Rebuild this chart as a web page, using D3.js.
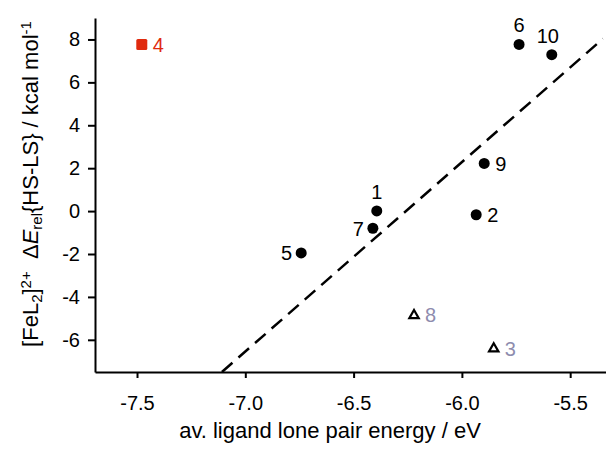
<!DOCTYPE html>
<html>
<head>
<meta charset="utf-8">
<script src="https://cdn.jsdelivr.net/npm/d3@7"></script>
<style>
  body { margin: 0; background: #fff; }
  text { font-family: "Liberation Sans", Arial, sans-serif; }
</style>
</head>
<body>
<svg id="chart"></svg>
<script>
// Data
const pointIds = ["1", "2", "3", "4", "5", "6", "7", "8", "9", "10"];
const pointX = [-6.393, -5.934, -5.853, -7.478, -6.742, -5.736, -6.411, -6.221, -5.897, -5.585];
const pointY = [0.01, -0.17, -6.39, 7.77, -1.95, 7.77, -0.80, -4.84, 2.22, 7.29];
const pointKind = ["circle", "circle", "triangle", "square", "circle", "circle", "circle", "triangle", "circle", "circle"];
const labelSide = ["top", "right", "right", "right", "left", "top", "left", "right", "right", "top"];

const fitX = [-7.108, -5.349];
const fitY = [-7.5, 8.03];

const xTicks = [-7.5, -7.0, -6.5, -6.0, -5.5];
const xTickLabels = ["-7.5", "-7.0", "-6.5", "-6.0", "-5.5"];
const yTicks = [-6, -4, -2, 0, 2, 4, 6, 8];
const yTickLabels = ["-6", "-4", "-2", "0", "2", "4", "6", "8"];

function whenDocumentLoaded(action) {
    if (document.readyState === "loading") {
        document.addEventListener("DOMContentLoaded", action);
    } else {
        action();
    }
}

function drawChart() {
    const width = 606;
    const height = 450;
    const margin = { top: 18, right: -1, bottom: 78, left: 95 };

    const xScale = d3.scaleLinear()
        .domain([-7.694, -5.33])
        .range([margin.left, width - margin.right]);
    const yScale = d3.scaleLinear()
        .domain([-7.5, 9])
        .range([height - margin.bottom, margin.top]);

    const svg = d3.select("#chart")
        .attr("width", width)
        .attr("height", height);

    // Axes
    const xAxis = d3.axisBottom(xScale)
        .tickValues(xTicks)
        .tickFormat((d, i) => xTickLabels[i])
        .tickSizeInner(6)
        .tickSizeOuter(0)
        .tickPadding(18);
    const yAxis = d3.axisLeft(yScale)
        .tickValues(yTicks)
        .tickFormat((d, i) => yTickLabels[i])
        .tickSizeInner(7)
        .tickSizeOuter(0)
        .tickPadding(8);

    const gx = svg.append("g")
        .attr("transform", `translate(0,${height - margin.bottom})`)
        .call(xAxis);
    const gy = svg.append("g")
        .attr("transform", `translate(${margin.left},0)`)
        .call(yAxis);

    [gx, gy].forEach(g => {
        g.select(".domain").attr("stroke", "#000").attr("stroke-width", 2);
        g.selectAll(".tick line").attr("stroke", "#000").attr("stroke-width", 2);
        g.selectAll(".tick text")
            .attr("fill", "#000")
            .style("font-family", "Liberation Sans, Arial, sans-serif")
            .style("font-size", "20px");
    });

    // Fit line
    const line = d3.line()
        .x(d => xScale(d[0]))
        .y(d => yScale(d[1]));
    svg.append("path")
        .datum(d3.zip(fitX, fitY))
        .attr("d", line)
        .attr("fill", "none")
        .attr("stroke", "#000")
        .attr("stroke-width", 2.5)
        .attr("stroke-dasharray", "14,8");

    // Points
    const points = pointIds.map((id, i) => ({
        id: id, x: pointX[i], y: pointY[i], kind: pointKind[i], side: labelSide[i]
    }));

    const marks = svg.append("g");
    marks.selectAll("circle")
        .data(points.filter(d => d.kind === "circle"))
        .join("circle")
        .attr("cx", d => xScale(d.x))
        .attr("cy", d => yScale(d.y))
        .attr("r", 5.5)
        .attr("fill", "#000");
    marks.selectAll("rect")
        .data(points.filter(d => d.kind === "square"))
        .join("rect")
        .attr("x", d => xScale(d.x) - 5.5)
        .attr("y", d => yScale(d.y) - 5.5)
        .attr("width", 11)
        .attr("height", 11)
        .attr("rx", 1.5)
        .attr("fill", "#e02a0e");
    marks.selectAll("path")
        .data(points.filter(d => d.kind === "triangle"))
        .join("path")
        .attr("d", d3.symbol().type(d3.symbolTriangle).size(38))
        .attr("transform", d => `translate(${xScale(d.x)},${yScale(d.y) + 0.5})`)
        .attr("fill", "#fff")
        .attr("stroke", "#000")
        .attr("stroke-width", 2.2)
        .attr("stroke-linejoin", "miter");

    const labelColor = d => d.kind === "square" ? "#e02a0e" : (d.kind === "triangle" ? "#8e8cae" : "#000");
    svg.append("g")
        .selectAll("text")
        .data(points)
        .join("text")
        .attr("x", d => xScale(d.x) + (d.side === "right" ? 11 : d.side === "left" ? -9 : (d.id === "10" ? -4 : 0)))
        .attr("y", d => yScale(d.y) + (d.side === "top" ? -12 : 7.5))
        .attr("text-anchor", d => d.side === "right" ? "start" : d.side === "left" ? "end" : "middle")
        .attr("fill", labelColor)
        .style("font-size", "20px")
        .text(d => d.id);

    // Axis titles
    svg.append("text")
        .attr("x", 330)
        .attr("y", 438)
        .attr("text-anchor", "middle")
        .style("font-size", "22px")
        .text("av. ligand lone pair energy / eV");

    const ylab = svg.append("text")
        .attr("transform", "translate(38,184) rotate(-90)")
        .attr("text-anchor", "middle")
        .style("font-size", "22px");
    ylab.append("tspan").text("[FeL");
    ylab.append("tspan").attr("baseline-shift", "-25%").style("font-size", "15px").text("2");
    ylab.append("tspan").text("]");
    ylab.append("tspan").attr("baseline-shift", "45%").style("font-size", "15px").text("2+");
    ylab.append("tspan").text("\u00a0 \u0394");
    ylab.append("tspan").style("font-style", "italic").text("E");
    ylab.append("tspan").attr("baseline-shift", "-25%").style("font-size", "15px").text("rel");
    ylab.append("tspan").text("{HS-LS} / kcal mol");
    ylab.append("tspan").attr("baseline-shift", "45%").style("font-size", "15px").text("-1");
}

whenDocumentLoaded(drawChart);
</script>
</body>
</html>
